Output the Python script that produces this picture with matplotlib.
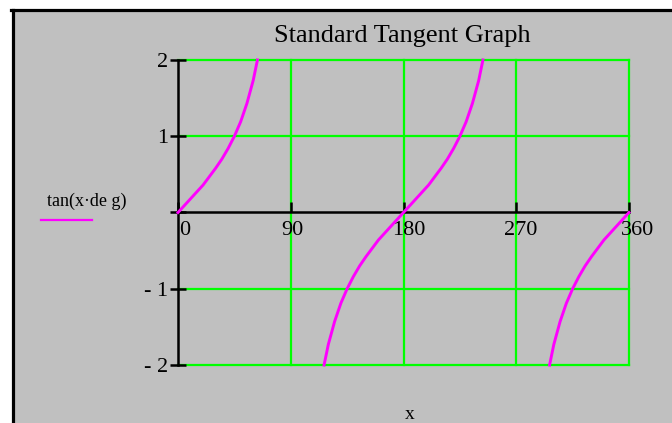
import matplotlib
matplotlib.use("Agg")
import matplotlib.pyplot as plt
from matplotlib.patches import Rectangle
from matplotlib.lines import Line2D

# values (degrees -> tan value), one list per branch
x_branch1 = [0, 5, 10, 15, 20, 25, 30, 35, 40, 45, 50, 55, 60, 63.4]
y_branch1 = [0, 0.09, 0.18, 0.27, 0.36, 0.47, 0.58, 0.70, 0.84, 1.0, 1.19, 1.43, 1.73, 2.0]

x_branch2 = [116.6, 120, 125, 130, 135, 140, 145, 150, 155, 160, 165, 170, 175, 180,
             185, 190, 195, 200, 205, 210, 215, 220, 225, 230, 235, 240, 243.4]
y_branch2 = [-2.0, -1.73, -1.43, -1.19, -1.0, -0.84, -0.70, -0.58, -0.47, -0.36, -0.27, -0.18, -0.09, 0,
             0.09, 0.18, 0.27, 0.36, 0.47, 0.58, 0.70, 0.84, 1.0, 1.19, 1.43, 1.73, 2.0]

x_branch3 = [296.6, 300, 305, 310, 315, 320, 325, 330, 335, 340, 345, 350, 355, 360]
y_branch3 = [-2.0, -1.73, -1.43, -1.19, -1.0, -0.84, -0.70, -0.58, -0.47, -0.36, -0.27, -0.18, -0.09, 0]

xticks = [0, 90, 180, 270, 360]
xtick_labels = ["0", "90", "180", "270", "360"]
yticks = [-2, -1, 0, 1, 2]
ytick_labels = ["- 2", "- 1", "", "1", "2"]

title = "Standard Tangent Graph"
legend_label = "tan(x·de g)"
xlabel = "x"

W, H = 672, 423
GRAY = "#c0c0c0"
GREEN = "#00ff00"
MAGENTA = "#ff00ff"

plt.rcParams["font.family"] = ["Liberation Serif", "DejaVu Serif"]

fig = plt.figure(figsize=(W / 100, H / 100), dpi=100, facecolor="white")

# gray panel with black border on top and left
fig.patches.append(Rectangle((14 / W, 0), 1, (H - 12) / H, transform=fig.transFigure,
                             facecolor=GRAY, edgecolor="none", zorder=-5))
fig.lines.append(Line2D([12.5 / W, 12.5 / W], [0, (H - 10.5) / H], transform=fig.transFigure,
                        color="black", lw=2.3, zorder=-4))
fig.lines.append(Line2D([11 / W, 1], [(H - 10.5) / H, (H - 10.5) / H], transform=fig.transFigure,
                        color="black", lw=2.3, zorder=-4))

ax = fig.add_axes([178 / W, (H - 365) / H, 451 / W, 305 / H])
ax.set_zorder(2)
ax.set_facecolor("none")
ax.set_xlim(0, 360)
ax.set_ylim(-2, 2)

# green grid
for xv in xticks[1:]:
    ax.plot([xv, xv], [-2, 2], color=GREEN, lw=1.6, zorder=1, clip_on=False)
for yv in yticks:
    if yv != 0:
        ax.plot([0, 360], [yv, yv], color=GREEN, lw=1.6, zorder=1, clip_on=False)

# axes through origin
for side in ["top", "right"]:
    ax.spines[side].set_visible(False)
ax.spines["bottom"].set_position(("data", 0))
ax.spines["left"].set_position(("data", 0))
ax.spines["bottom"].set_linewidth(1.8)
ax.spines["left"].set_linewidth(1.8)
ax.spines["bottom"].set_zorder(2)
ax.spines["left"].set_zorder(2)

ax.set_xticks(xticks)
ax.set_xticklabels([])
ax.set_yticks(yticks)
ax.set_yticklabels(ytick_labels, fontsize=16)
ax.tick_params(axis="x", direction="in", length=7, width=1.8)
ax.tick_params(axis="y", direction="inout", length=11.5, width=1.8, pad=1)

# x tick labels sit just below the axis line
label_shift = [7, 2, 5, 4, 9]
for xv, lab, dx in zip(xticks, xtick_labels, label_shift):
    ax.annotate(lab, (xv, 0), xytext=(dx * 0.72, -6), textcoords="offset points",
                ha="center", va="top", fontsize=16)

# curve
for xs, ys in [(x_branch1, y_branch1), (x_branch2, y_branch2), (x_branch3, y_branch3)]:
    ax.plot(xs, ys, color=MAGENTA, lw=2.1, zorder=3, clip_on=False)

# title, legend, x label
fig.text(402 / W, 1 - 36 / H, title, ha="center", va="center", fontsize=19)
fig.text(87 / W, 1 - 201 / H, legend_label, ha="center", va="center", fontsize=13)
fig.lines.append(Line2D([41 / W, 92 / W], [1 - 220 / H, 1 - 220 / H], transform=fig.transFigure,
                        color=MAGENTA, lw=1.6))
fig.text(410 / W, 1 - 414 / H, xlabel, ha="center", va="center", fontsize=14)

fig.savefig("out.png", dpi=100, facecolor="white")
